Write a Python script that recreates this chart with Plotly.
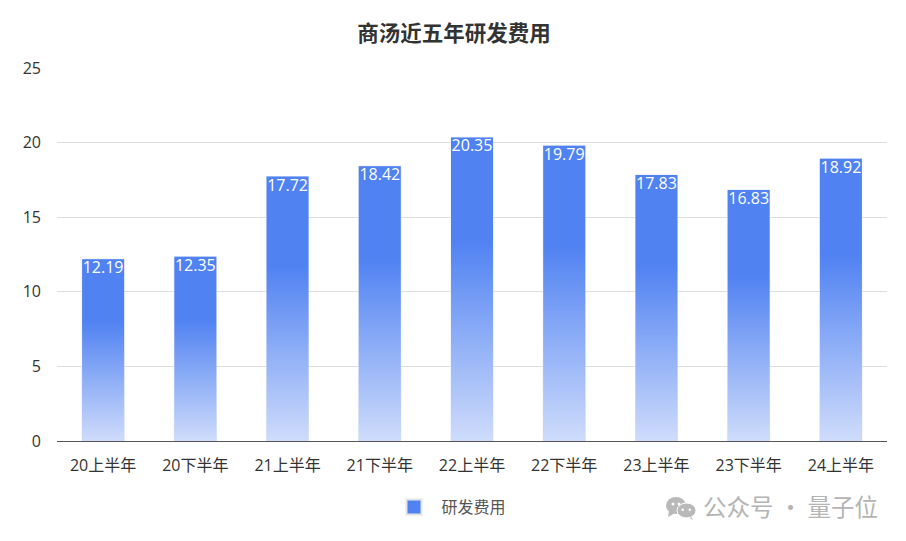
import plotly.graph_objects as go

categories = ["20上半年", "20下半年", "21上半年", "21下半年", "22上半年",
              "22下半年", "23上半年", "23下半年", "24上半年"]
values = [12.19, 12.35, 17.72, 18.42, 20.35, 19.79, 17.83, 16.83, 18.92]
y_ticks = [0, 5, 10, 15, 20, 25]
series_name = "研发费用"
title_text = "商汤近五年研发费用"
watermark_text = "公众号 · 量子位"

FONT = "'Open Sans', 'Noto Sans CJK SC', sans-serif"
BAR_BLUE = "#5082f2"
BAR_PALE = "#cfdcfb"
BAR_WIDTH = 0.455
positions = list(range(len(categories)))

fig = go.Figure()

# Real bars; the gradient sits on top of them.
fig.add_trace(go.Bar(
    x=positions, y=values, name=series_name, width=BAR_WIDTH,
    marker=dict(color=BAR_BLUE, line=dict(color="#e3e8f4", width=1)),
    showlegend=False, legendgroup=series_name,
    customdata=categories, hovertemplate="%{customdata}: %{y}<extra></extra>",
))

# Vertical gradient per bar: solid on the top third, fading towards the axis.
for p, v in zip(positions, values):
    l, r = p - BAR_WIDTH / 2, p + BAR_WIDTH / 2
    fig.add_trace(go.Scatter(
        x=[l, r, r, l, l], y=[0, 0, v, v, 0],
        mode="lines", line=dict(width=0), fill="toself",
        fillgradient=dict(
            type="vertical", start=v, stop=0,
            colorscale=[[0, BAR_BLUE], [0.34, BAR_BLUE], [1, BAR_PALE]],
        ),
        showlegend=False, hoverinfo="skip",
    ))

fig.add_trace(go.Scatter(
    x=positions, y=[v - 0.13 for v in values], mode="text",
    text=[f"{v:.2f}" for v in values], textposition="bottom center",
    textfont=dict(color="white", size=16, family=FONT),
    showlegend=False, hoverinfo="skip",
))

# Legend entry with the larger, bordered swatch
fig.add_trace(go.Scatter(
    x=[None], y=[None], mode="markers", name=series_name, legendgroup=series_name,
    marker=dict(symbol="square", size=15, color=BAR_BLUE, line=dict(color="#e4e4e4", width=2)),
    hoverinfo="skip",
))

PAGE_OFFSET = 8  # the page body margin
L, T, PW, PH = 57 - PAGE_OFFSET, 68 - PAGE_OFFSET, 830, 373


def px(x):
    return (x - 57) / PW


def py(y):
    return 1 - (y - 68) / PH


ICON = "#b9b9b9"


def bubble(x0, y0, x1, y1, color, border=0):
    return dict(type="circle", xref="paper", yref="paper", x0=px(x0), x1=px(x1),
                y0=py(y1), y1=py(y0), fillcolor=color,
                line=dict(color="white", width=border), layer="above")


def tail(x0, y0, x1, y1, x2, y2):
    return dict(type="path", xref="paper", yref="paper",
                path=f"M{px(x0)},{py(y0)} L{px(x1)},{py(y1)} L{px(x2)},{py(y2)} Z",
                fillcolor=ICON, line=dict(width=0), layer="above")


shapes = [
    tail(669, 511, 668, 517, 675, 513),
    bubble(666, 497, 686, 514, ICON),
    tail(690, 514, 693, 520, 686, 516),
    bubble(677, 503, 696, 518, ICON, 1),
    bubble(671.5, 502.5, 674.5, 505.5, "white"),
    bubble(677.5, 502.5, 680.5, 505.5, "white"),
    bubble(681.5, 508.5, 684, 511, "white"),
    bubble(688.5, 508.5, 691, 511, "white"),
]

fig.update_layout(
    width=906 - PAGE_OFFSET, height=541 - PAGE_OFFSET,
    margin=dict(l=L, r=19, t=T, b=100),
    paper_bgcolor="white", plot_bgcolor="white",
    font=dict(family=FONT, color="#333333", size=16),
    title=dict(text=f"<b>{title_text}</b>", xref="paper", x=px(454), xanchor="center",
               yref="container", y=1 - (33 - PAGE_OFFSET) / 533, yanchor="middle",
               font=dict(size=21.5, color="#333333", family=FONT)),
    showlegend=True,
    legend=dict(orientation="h", x=px(386.5), xanchor="left", y=py(507), yanchor="middle",
                font=dict(size=16, color="#555555"), itemclick=False, itemwidth=45),
    xaxis=dict(range=[-0.5, 8.5], tickvals=positions, ticktext=categories,
               showgrid=False, zeroline=False, showline=True, linecolor="#555555", linewidth=1,
               ticks="", ticklabelstandoff=10, tickfont=dict(size=16, color="#333333"), fixedrange=True),
    yaxis=dict(range=[0, 25], tickvals=y_ticks, showgrid=True,
               gridcolor="#dedede", gridwidth=1, zeroline=False, showline=False,
               ticks="", ticklabelstandoff=15, tickfont=dict(size=16, color="#333333"), fixedrange=True),
    shapes=shapes,
    annotations=[dict(text=watermark_text, xref="paper", yref="paper", x=px(880), y=py(506),
                      xanchor="right", yanchor="middle", showarrow=False,
                      font=dict(size=23.5, color="#b4b4b4", family="'Noto Sans CJK SC'"))],
)

fig.write_html("out.html")
